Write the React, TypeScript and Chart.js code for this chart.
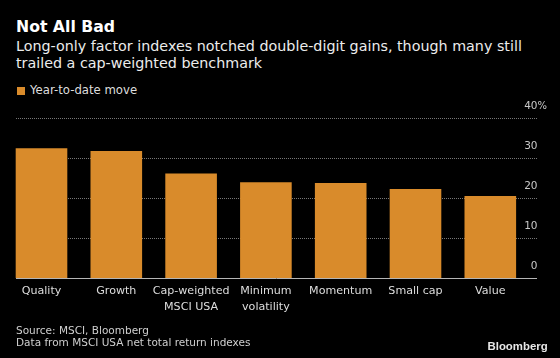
import React, { useEffect, useRef } from "react";
import { Chart, registerables } from "chart.js";

Chart.register(...registerables);

const categories: (string | string[])[] = [
  "Quality",
  "Growth",
  ["Cap-weighted", "MSCI USA"],
  ["Minimum", "volatility"],
  "Momentum",
  "Small cap",
  "Value",
];
const ytdMove: number[] = [32.5, 31.8, 26.2, 24.0, 23.8, 22.3, 20.6];
const yTicks: number[] = [0, 10, 20, 30, 40];
const seriesName = "Year-to-date move";
const titleText = "Not All Bad";
const subtitleLines = [
  "Long-only factor indexes notched double-digit gains, though many still",
  "trailed a cap-weighted benchmark",
];
const sourceLines = ["Source: MSCI, Bloomberg", "Data from MSCI USA net total return indexes"];

const FONT = '"DejaVu Sans", sans-serif';
const BAR = "#d98b2b";
const Y_LABEL_PAD = 9.8;

const gridPlugin = {
  id: "bbgGrid",
  beforeDatasetsDraw(chart: any) {
    const y = chart.scales.y;
    const ctx = chart.ctx;
    ctx.save();
    ctx.strokeStyle = "#777";
    ctx.lineWidth = 1;
    ctx.setLineDash([1, 1]);
    for (const t of y.ticks) {
      if (t.value === 0) continue;
      const py = Math.round(y.getPixelForValue(t.value)) + 0.5;
      ctx.beginPath();
      ctx.moveTo(16, py);
      ctx.lineTo(537, py);
      ctx.stroke();
    }
    ctx.restore();
  },
  afterDatasetsDraw(chart: any) {
    const y = chart.scales.y;
    const ctx = chart.ctx;
    ctx.save();
    ctx.strokeStyle = "#b5b5b5";
    ctx.lineWidth = 1;
    const py = Math.round(y.getPixelForValue(0)) + 0.5;
    ctx.beginPath();
    ctx.moveTo(16, py);
    ctx.lineTo(537, py);
    ctx.stroke();
    const top = yTicks[yTicks.length - 1];
    ctx.fillStyle = "#c8c8c8";
    ctx.font = `10px ${FONT}`;
    ctx.textAlign = "left";
    ctx.textBaseline = "middle";
    ctx.fillText("%", y.left + Y_LABEL_PAD, y.getPixelForValue(top) - 11.6);
    ctx.restore();
  },
};

export default function App() {
  const ref = useRef<HTMLCanvasElement | null>(null);

  useEffect(() => {
    if (!ref.current) return;
    const chart = new Chart(ref.current, {
      type: "bar",
      data: {
        labels: categories as any,
        datasets: [
          {
            label: seriesName,
            data: ytdMove,
            backgroundColor: BAR,
            borderWidth: 0,
            categoryPercentage: 1,
            barPercentage: 0.69,
          },
        ],
      },
      options: {
        responsive: false,
        animation: false,
        devicePixelRatio: 1,
        layout: { padding: { top: 22.3, left: 4.1, right: 0, bottom: 0 } },
        plugins: {
          legend: { display: false },
          title: { display: false },
          tooltip: { enabled: false },
        },
        scales: {
          x: {
            grid: { display: false, drawTicks: false },
            border: { display: false },
            ticks: {
              color: "#dedede",
              font: { family: FONT, size: 11.1, lineHeight: 1.44 },
              padding: 4.8,
              maxRotation: 0,
              autoSkip: false,
            },
            afterFit: (s: any) => {
              s.height = 47.7;
            },
          },
          y: {
            position: "right",
            min: 0,
            max: 40,
            afterBuildTicks: (s: any) => {
              s.ticks = yTicks.map((v) => ({ value: v }));
            },
            grid: { display: false, drawTicks: false },
            border: { display: false },
            ticks: {
              color: "#c8c8c8",
              font: { family: FONT, size: 10.5 },
              mirror: true,
              crossAlign: "near",
              padding: Y_LABEL_PAD,
              labelOffset: -11.6,
              callback: (v: any) => String(v),
            },
            afterFit: (s: any) => {
              s.width = 560 - 527.7;
            },
          },
        },
      },
      plugins: [gridPlugin],
    });
    return () => chart.destroy();
  }, []);

  const txt: React.CSSProperties = { position: "absolute", whiteSpace: "nowrap", fontFamily: FONT, margin: 0 };

  return (
    <div
      style={{
        position: "fixed",
        left: 0,
        top: 0,
        width: 560,
        height: 358,
        background: "#000",
        overflow: "hidden",
      }}
    >
      <div style={{ ...txt, left: 16, top: 18.9, fontSize: 15.7, lineHeight: "16px", fontWeight: 700, color: "#fff" }}>
        {titleText}
      </div>
      <div style={{ ...txt, left: 16, top: 38, fontSize: 14.3, lineHeight: "16.7px", color: "#ececec" }}>
        {subtitleLines.map((l, i) => (
          <div key={i}>{l}</div>
        ))}
      </div>
      <div style={{ position: "absolute", left: 17, top: 86.5, width: 8, height: 8, background: BAR }} />
      <div style={{ ...txt, left: 30, top: 85.1, fontSize: 11.7, lineHeight: "11.7px", color: "#dedede" }}>
        {seriesName}
      </div>
      <canvas
        ref={ref}
        width={560}
        height={230}
        style={{ position: "absolute", left: 0, top: 96, width: 560, height: 230 }}
      />
      <div style={{ ...txt, left: 16, top: 323.5, fontSize: 10.5, lineHeight: "12.4px", color: "#cfcfcf" }}>
        {sourceLines.map((l, i) => (
          <div key={i}>{l}</div>
        ))}
      </div>
      <div
        style={{
          ...txt,
          left: 487.5,
          top: 341.4,
          fontFamily: '"Liberation Sans", Arial, sans-serif',
          fontSize: 11.4,
          lineHeight: "11.4px",
          fontWeight: 700,
          color: "#e8e8e8",
        }}
      >
        Bloomberg
      </div>
    </div>
  );
}
